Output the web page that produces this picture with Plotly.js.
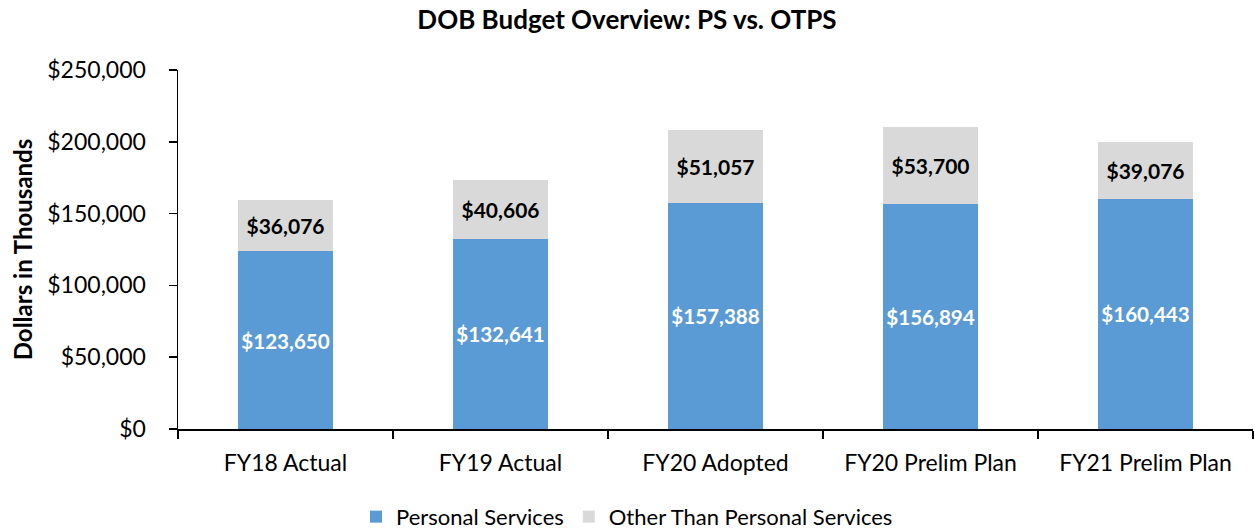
<!DOCTYPE html>
<html><head><meta charset="utf-8">
<script src="https://cdn.plot.ly/plotly-3.0.1.min.js"></script>
<style>html,body{margin:0;padding:0;background:#fff}#chart{width:1254px;height:529px}</style>
</head><body><div id="chart"></div>
<script>
const categories = ["FY18 Actual", "FY19 Actual", "FY20 Adopted", "FY20 Prelim Plan", "FY21 Prelim Plan"];
const personalServices = [123650, 132641, 157388, 156894, 160443];
const otherThanPS = [36076, 40606, 51057, 53700, 39076];
const yTicks = [0, 50000, 100000, 150000, 200000, 250000];
const yTickText = ["$0", "$50,000", "$100,000", "$150,000", "$200,000", "$250,000"];

const FONT = "Lato, 'Open Sans', sans-serif";
const traces = [
  {type: 'bar', name: 'Personal Services', x: categories, y: personalServices,
   marker: {color: '#5B9BD5'},
   texttemplate: '$%{y:,}', textposition: 'inside', insidetextanchor: 'middle',
   textfont: {color: '#ffffff', size: 21, family: FONT, weight: 'bold'},
   textangle: 0, hoverinfo: 'skip'},
  {type: 'bar', name: 'Other Than Personal Services', x: categories, y: otherThanPS,
   marker: {color: '#D9D9D9'},
   texttemplate: '$%{y:,}', textposition: 'inside', insidetextanchor: 'middle',
   textfont: {color: '#000000', size: 21, family: FONT, weight: 'bold'},
   textangle: 0, hoverinfo: 'skip'}
];
const layout = {
  width: 1254, height: 529,
  barmode: 'stack', bargap: 0.56,
  margin: {l: 178, r: 1, t: 70, b: 100, autoexpand: false},
  paper_bgcolor: '#fff', plot_bgcolor: '#fff',
  font: {family: FONT, size: 22, color: '#000'},
  title: {text: 'DOB Budget Overview: PS vs. OTPS', x: 0.5, xref: 'container', xanchor: 'center',
          y: 0.962, yref: 'container', yanchor: 'middle',
          font: {family: FONT, size: 26, weight: 'bold', color: '#000'}},
  xaxis: {type: 'category', showline: true, linecolor: '#000', linewidth: 1.5,
          ticks: 'outside', tickson: 'boundaries', ticklen: 8, tickcolor: '#000', tickwidth: 1.5,
          ticklabelstandoff: 13, tickangle: 0, automargin: false,
          tickfont: {size: 23, family: FONT}, showgrid: false, zeroline: false},
  yaxis: {range: [0, 250000], tickmode: 'array', tickvals: yTicks, ticktext: yTickText,
          showline: true, linecolor: '#000', linewidth: 1.5,
          ticks: 'outside', ticklen: 8, tickcolor: '#000', tickwidth: 1.5,
          ticklabelstandoff: 18, automargin: false,
          tickfont: {size: 23, family: FONT}, showgrid: false, zeroline: false,
          title: {text: 'Dollars in Thousands', standoff: 8, font: {size: 24, weight: 'bold', family: FONT}}},
  legend: {orientation: 'h', xref: 'container', x: 0.5, xanchor: 'center',
           yref: 'container', y: 0.023, yanchor: 'middle', traceorder: 'normal',
           font: {size: 22, family: FONT}, itemwidth: 30},
  showlegend: true
};
Plotly.newPlot('chart', traces, layout, {displayModeBar: false, staticPlot: true});
</script></body></html>
